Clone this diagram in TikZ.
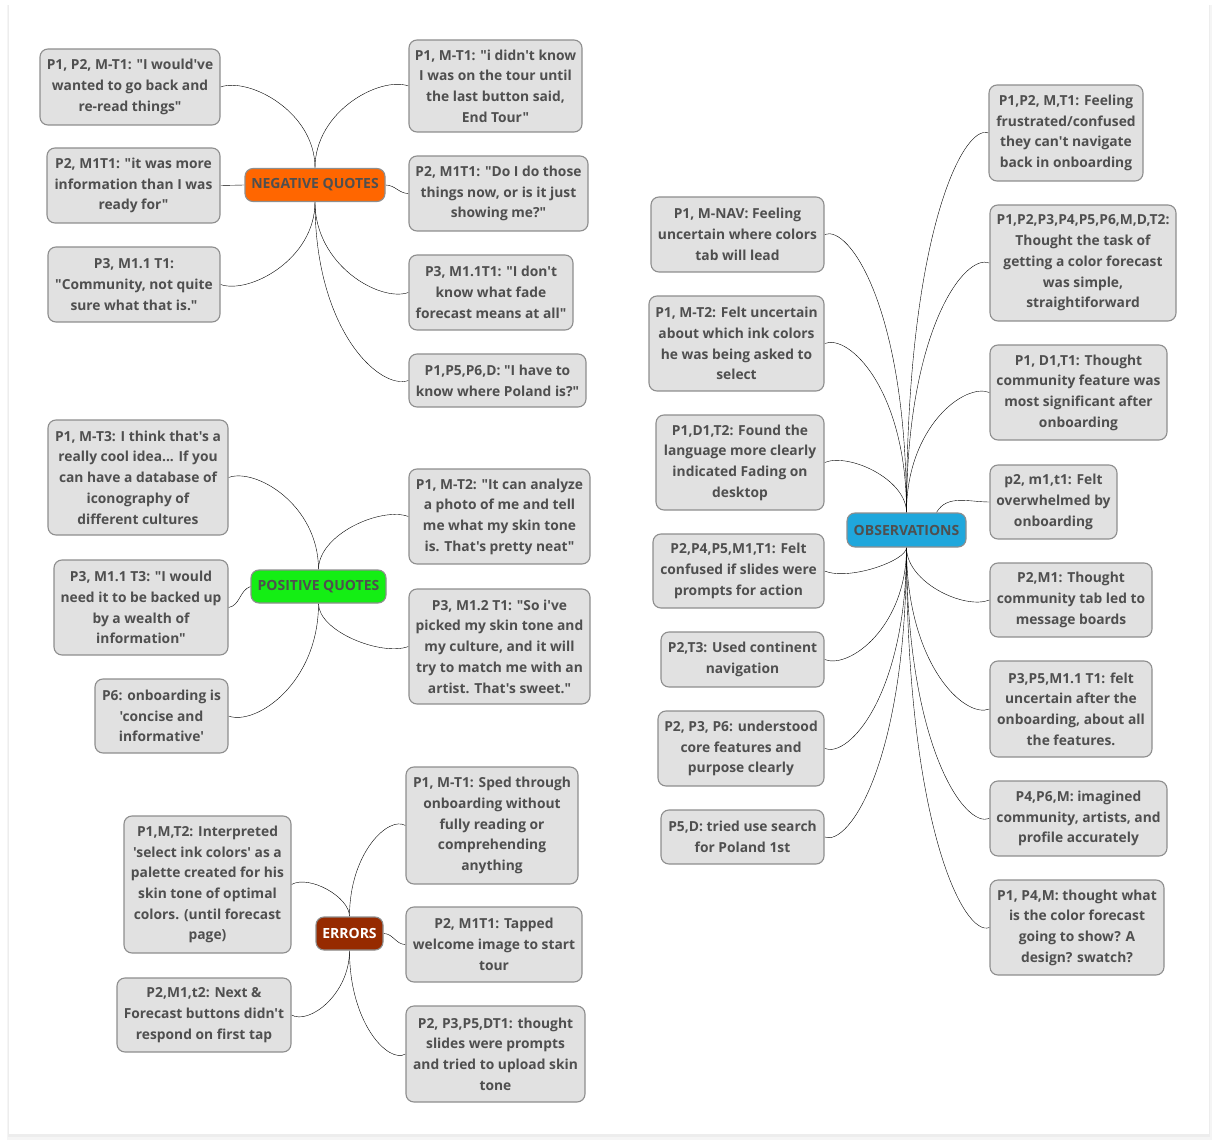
\documentclass[tikz,border=0pt]{standalone}
\usepackage{fontspec}
\setmainfont{Open Sans}[Ligatures=TeXOff]
\usetikzlibrary{calc,backgrounds}

\definecolor{topicfill}{HTML}{E1E1E1}
\definecolor{topicline}{HTML}{8E8E8E}
\definecolor{inkgray}{HTML}{4F4F4F}
\definecolor{negorange}{HTML}{FF6600}
\definecolor{posgreen}{HTML}{14EE14}
\definecolor{obsblue}{HTML}{1FA7DC}
\definecolor{errred}{HTML}{962A00}

\tikzset{
  topic/.style={draw=topicline, fill=topicfill, line width=1.1pt, rounded corners=8pt,
    align=center, text=inkgray, inner xsep=3pt, inner ysep=4pt,
    font=\fontsize{13.8}{20.7}\selectfont\bfseries},
  central/.style={topic, fill=#1, minimum height=33pt, inner xsep=4pt,
    font=\fontsize{14}{16}\selectfont\bfseries},
  twig/.style={to path={.. controls ($(\tikztostart)!.75!(\tikztostart |- \tikztotarget)$) and
    ($(\tikztotarget)!.3!(\tikztostart |- \tikztotarget)+(0,#1)$) .. (\tikztotarget)}},
  branch/.style={draw=black!50, line width=1pt}
}

\begin{document}
\begin{tikzpicture}[x=1pt,y=-1pt]
  \useasboundingbox (0,0) rectangle (1218,1147);

  \begin{scope}[on background layer]
    \fill[white] (0,0) rectangle (1218,1147);
    \fill[black!4] (7,5) rectangle (1212,1140);
    \fill[black!7] (8,5) rectangle (1210,1137);
    \fill[white] (9,5) rectangle (1209,1134);
  \end{scope}

  % negative quotes
  \node[central=negorange, minimum width=140pt] (neg) at (315,185) {NEGATIVE QUOTES};
  \node[topic, minimum width=180pt, minimum height=76pt] (nl1) at (130,87)
    {P1, P2, M-T1: "I would've\\wanted to go back and\\re-read things"};
  \node[topic, minimum width=173pt, minimum height=75pt] (nl2) at (133.5,185.5)
    {P2, M1T1: "it was more\\information than I was\\ready for"};
  \node[topic, minimum width=172pt, minimum height=75pt] (nl3) at (134,284.5)
    {P3, M1.1 T1:\\"Community, not quite\\sure what that is."};
  \node[topic, minimum width=173pt, minimum height=92pt] (nr1) at (495.5,86)
    {P1, M-T1: "i didn't know\\I was on the tour until\\the last button said,\\End Tour"};
  \node[topic, minimum width=179pt, minimum height=75pt] (nr2) at (498.5,193.5)
    {P2, M1T1: "Do I do those\\things now, or is it just\\showing me?"};
  \node[topic, minimum width=164pt, minimum height=75pt] (nr3) at (491,292.5)
    {P3, M1.1T1: "I don't\\know what fade\\forecast means at all"};
  \node[topic, minimum width=177pt, minimum height=53pt] (nr4) at (497.5,380.5)
    {P1,P5,P6,D: "I have to\\know where Poland is?"};

  % positive quotes
  \node[central=posgreen, minimum width=135pt] (pos) at (318.5,586.5) {POSITIVE QUOTES};
  \node[topic, minimum width=180pt, minimum height=115pt] (pl1) at (138,477.5)
    {P1, M-T3: I think that's a\\really cool idea... If you\\can have a database of\\iconography of\\different cultures};
  \node[topic, minimum width=174pt, minimum height=95pt] (pl2) at (141,607.5)
    {P3, M1.1 T3: "I would\\need it to be backed up\\by a wealth of\\information"};
  \node[topic, minimum width=133pt, minimum height=74pt] (pl3) at (161.5,716)
    {P6: onboarding is\\'concise and\\informative'};
  \node[topic, minimum width=181pt, minimum height=95pt] (pr1) at (499.5,516.5)
    {P1, M-T2: "It can analyze\\a photo of me and tell\\me what my skin tone\\is. That's pretty neat"};
  \node[topic, minimum width=181pt, minimum height=115pt] (pr2) at (499.5,646.5)
    {P3, M1.2 T1: "So i've\\picked my skin tone and\\my culture, and it will\\try to match me with an\\artist. That's sweet."};

  % errors
  \node[central=errred, text=white, minimum width=67pt] (err) at (349.5,933.5) {ERRORS};
  \node[topic, minimum width=167pt, minimum height=137pt] (el1) at (207.5,884.5)
    {P1,M,T2: Interpreted\\'select ink colors' as a\\palette created for his\\skin tone of optimal\\colors. (until forecast\\page)};
  \node[topic, minimum width=174pt, minimum height=74pt] (el2) at (204,1015)
    {P2,M1,t2: Next \&\\Forecast buttons didn't\\respond on first tap};
  \node[topic, minimum width=172pt, minimum height=117pt] (er1) at (492,825.5)
    {P1, M-T1: Sped through\\onboarding without\\fully reading or\\comprehending\\anything};
  \node[topic, minimum width=176pt, minimum height=75pt] (er2) at (494,944.5)
    {P2, M1T1: Tapped\\welcome image to start\\tour};
  \node[topic, minimum width=179pt, minimum height=96pt] (er3) at (495.5,1054)
    {P2, P3,P5,DT1: thought\\slides were prompts\\and tried to upload skin\\tone};

  % observations
  \node[central=obsblue, minimum width=119pt, minimum height=34pt] (obs) at (906.5,530) {OBSERVATIONS};
  \node[topic, minimum width=173pt, minimum height=75pt] (ol1) at (737.5,234.5)
    {P1, M-NAV: Feeling\\uncertain where colors\\tab will lead};
  \node[topic, minimum width=175pt, minimum height=95pt] (ol2) at (736.5,343.5)
    {P1, M-T2: Felt uncertain\\about which ink colors\\he was being asked to\\select};
  \node[topic, minimum width=168pt, minimum height=95pt] (ol3) at (740,462.5)
    {P1,D1,T2: Found the\\language more clearly\\indicated Fading on\\desktop};
  \node[topic, minimum width=171pt, minimum height=74pt] (ol4) at (738.5,571)
    {P2,P4,P5,M1,T1: Felt\\confused if slides were\\prompts for action};
  \node[topic, minimum width=163pt, minimum height=55pt] (ol5) at (742.5,659.5)
    {P2,T3: Used continent\\navigation};
  \node[topic, minimum width=166pt, minimum height=75pt] (ol6) at (741,748.5)
    {P2, P3, P6: understood\\core features and\\purpose clearly};
  \node[topic, minimum width=163pt, minimum height=54pt] (ol7) at (742.5,837)
    {P5,D: tried use search\\for Poland 1st};
  \node[topic, minimum width=154pt, minimum height=96pt] (or1) at (1066,133)
    {P1,P2, M,T1: Feeling\\frustrated/confused\\they can't navigate\\back in onboarding};
  \node[topic, minimum width=186pt, minimum height=116pt] (or2) at (1083,263)
    {P1,P2,P3,P4,P5,P6,M,D,T2:\\Thought the task of\\getting a color forecast\\was simple,\\straightiforward};
  \node[topic, minimum width=177pt, minimum height=95pt] (or3) at (1078.5,392.5)
    {P1, D1,T1: Thought\\community feature was\\most significant after\\onboarding};
  \node[topic, minimum width=127pt, minimum height=74pt] (or4) at (1053.5,502)
    {p2, m1,t1: Felt\\overwhelmed by\\onboarding};
  \node[topic, minimum width=162pt, minimum height=74pt] (or5) at (1071,600)
    {P2,M1: Thought\\community tab led to\\message boards};
  \node[topic, minimum width=162pt, minimum height=96pt] (or6) at (1071,709)
    {P3,P5,M1.1 T1: felt\\uncertain after the\\onboarding, about all\\the features.};
  \node[topic, minimum width=177pt, minimum height=75pt] (or7) at (1078.5,818.5)
    {P4,P6,M: imagined\\community, artists, and\\profile accurately};
  \node[topic, minimum width=174pt, minimum height=95pt] (or8) at (1077,927.5)
    {P1, P4,M: thought what\\is the color forecast\\going to show? A\\design? swatch?};

  % connectors
  \begin{scope}[on background layer, branch]
    \draw (neg) to[twig=-10] (nl1.east);
    \draw (neg.west) -- (nl2.east);
    \draw (neg) to[twig=10] (nl3.east);
    \draw (neg) to[twig=-10] (nr1.west);
    \draw (neg.east) to[out=0,in=180] (nr2.west);
    \draw (neg) to[twig=10] (nr3.west);
    \draw (neg) to[twig=10] (nr4.west);

    \draw (pos) to[twig=-10] (pl1.east);
    \draw (pos.west) to[out=200,in=10] (pl2.east);
    \draw (pos) to[twig=10] (pl3.east);
    \draw (pos) to[twig=-10] (pr1.west);
    \draw (pos) to[twig=10] (pr2.west);

    \draw (err) to[twig=-10] (el1.east);
    \draw (err) to[twig=10] (el2.east);
    \draw (err) to[twig=-10] (er1.west);
    \draw (err.east) to[out=0,in=180] (er2.west);
    \draw (err) to[twig=10] (er3.west);

    \foreach \leaf in {ol1,ol2,ol3}
      \draw (obs) to[twig=-10] (\leaf.east);
    \foreach \leaf in {ol4,ol5,ol6,ol7}
      \draw (obs) to[twig=10] (\leaf.east);
    \foreach \leaf in {or1,or2,or3}
      \draw (obs) to[twig=-10] (\leaf.west);
    \draw ([xshift=30pt]obs.north) to[out=60,in=180] (or4.west);
    \foreach \leaf in {or5,or6,or7,or8}
      \draw (obs) to[twig=10] (\leaf.west);
  \end{scope}
\end{tikzpicture}
\end{document}
